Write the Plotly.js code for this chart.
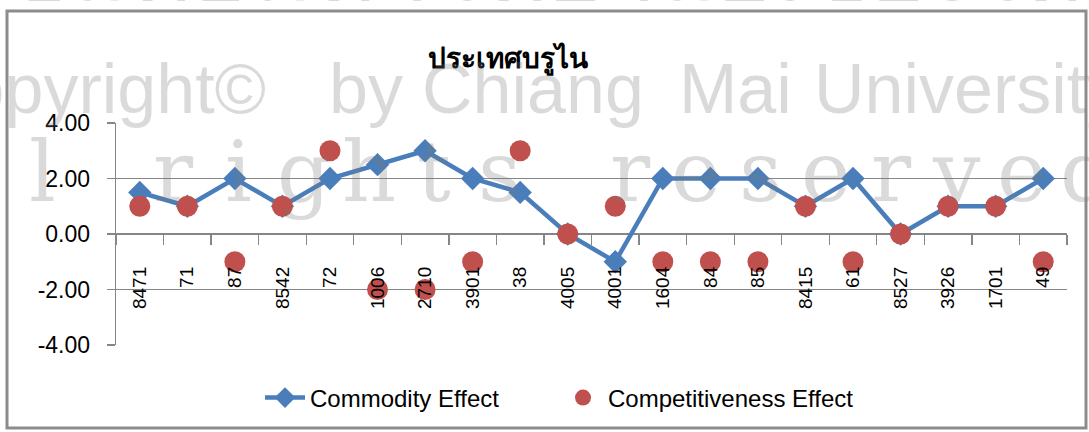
<!DOCTYPE html>
<html>
<head>
<meta charset="utf-8">
<script src="https://cdn.plot.ly/plotly-3.0.1.min.js"></script>
<style>
  html, body { margin: 0; padding: 0; background: #ffffff; }
  #chart { width: 1089px; height: 432px; }
</style>
</head>
<body>
<div id="chart"></div>
<script>
// ---- data ----
const chartTitle = 'ประเทศบรูไน';
const categories = ['8471', '71', '87', '8542', '72', '1006', '2710', '3901', '38', '4005',
                    '4001', '1604', '84', '85', '8415', '61', '8527', '3926', '1701', '49'];
const commodityEffect = [1.5, 1, 2, 1, 2, 2.5, 3, 2, 1.5, 0,
                         -1, 2, 2, 2, 1, 2, 0, 1, 1, 2];
const competitivenessEffect = [1, 1, -1, 1, 3, -2, -2, -1, 3, 0,
                               1, -1, -1, -1, 1, -1, 0, 1, 1, -1];
const seriesNames = ['Commodity Effect', 'Competitiveness Effect'];
const yTickVals = [-4, -2, 0, 2, 4];
const yTickText = ['-4.00', '-2.00', '0.00', '2.00', '4.00'];

// ---- watermark text seen over the reference ----
const watermarkThai = 'ลิขสิทธิ์มหาวิทยาลัยเชียงใหม่';
const watermarkCopyrightWords = ['Copyright©', 'by', 'Chiang', 'Mai', 'University'];
const watermarkRights = 'All rights reserved';

// ---- geometry (pixels) ----
const W = 1089, H = 432;
const L = 116, R = 22, T = 123, B = 87;
const plotW = W - L - R, plotH = H - T - B;
const px2x = px => (px - L) / plotW;
const px2y = py => (H - B - py) / plotH;

const gridColor = '#868686';
const wmColor = 'rgba(120,120,120,0.27)';

const annotations = [];
// Thai watermark line (mostly cut off at the top)
annotations.push({
  text: watermarkThai, xref: 'paper', yref: 'paper',
  x: px2x(545), y: px2y(30), xanchor: 'center', yanchor: 'bottom',
  showarrow: false, font: { family: 'Noto Sans, DejaVu Sans, sans-serif', size: 96, color: wmColor }
});
// Copyright line, word by word (wide word spacing in the reference)
const wordLeft = [null, 327, 420, 677, 812];
watermarkCopyrightWords.forEach((w, i) => {
  annotations.push({
    text: w, xref: 'paper', yref: 'paper',
    x: px2x(i === 0 ? 268 : wordLeft[i]), y: px2y(89),
    xanchor: i === 0 ? 'right' : 'left', yanchor: 'middle',
    showarrow: false, font: { family: 'Liberation Sans, Arial, sans-serif', size: 70, color: wmColor }
  });
});
// Spaced "All rights reserved"
watermarkRights.split('').forEach((ch, i) => {
  if (ch === ' ') return;
  annotations.push({
    text: ch, xref: 'paper', yref: 'paper',
    x: px2x(-88 + 65.3 * i), y: px2y(172), xanchor: 'center', yanchor: 'middle',
    showarrow: false, font: { family: 'DejaVu Serif, serif', size: 84, color: wmColor }
  });
});

const traces = [
  {
    type: 'scatter', mode: 'lines+markers', name: seriesNames[0],
    x: categories, y: commodityEffect,
    line: { color: '#4a7ebb', width: 4.5 },
    marker: { symbol: 'diamond', size: 18, color: '#4a7ebb' },
    cliponaxis: false
  },
  {
    type: 'scatter', mode: 'markers', name: seriesNames[1],
    x: categories, y: competitivenessEffect,
    marker: { symbol: 'circle', size: 21, color: '#c0504d' },
    cliponaxis: false
  }
];

const layout = {
  width: W, height: H,
  margin: { l: L, r: R, t: T, b: B, pad: 0 },
  paper_bgcolor: '#ffffff', plot_bgcolor: '#ffffff',
  font: { family: 'Liberation Sans, Arial, sans-serif', color: '#000000' },
  title: {
    text: chartTitle,
    font: { family: 'Noto Sans, DejaVu Sans, sans-serif', size: 28, weight: 'bold', color: '#000000' },
    xref: 'paper', x: px2x(508), xanchor: 'center',
    yref: 'container', y: 1 - 58 / H, yanchor: 'middle'
  },
  xaxis: {
    type: 'category', range: [-0.5, categories.length - 0.5],
    anchor: 'free', position: 0.5,
    showgrid: false, zeroline: false, showline: false,
    ticks: 'outside', tickson: 'boundaries', ticklen: 10, tickwidth: 1.3, tickcolor: gridColor,
    tickangle: -90, ticklabelstandoff: 28,
    tickfont: { family: 'Liberation Sans, Arial, sans-serif', size: 19, color: '#000000' },
    fixedrange: true
  },
  yaxis: {
    range: [-4, 4], tickmode: 'array', tickvals: yTickVals, ticktext: yTickText,
    showgrid: true, gridcolor: gridColor, gridwidth: 1.3,
    zeroline: false, showline: true, linecolor: gridColor, linewidth: 1.3,
    ticks: 'outside', ticklen: 8, tickwidth: 1.3, tickcolor: gridColor,
    ticklabelstandoff: 12,
    tickfont: { family: 'Liberation Sans, Arial, sans-serif', size: 23, color: '#000000' },
    fixedrange: true
  },
  showlegend: true,
  legend: {
    orientation: 'h', x: px2x(558), xanchor: 'center', y: px2y(398), yanchor: 'middle',
    font: { family: 'Liberation Sans, Arial, sans-serif', size: 24, color: '#000000' },
    bgcolor: 'rgba(0,0,0,0)', itemwidth: 40,
    entrywidth: 243, entrywidthmode: 'pixels'
  },
  shapes: [
    { type: 'rect', xref: 'paper', yref: 'paper', layer: 'below',
      x0: px2x(7), x1: px2x(1086), y0: px2y(428), y1: px2y(11),
      line: { color: '#8c8c8c', width: 3 }, fillcolor: 'rgba(0,0,0,0)' }
  ],
  annotations: annotations
};

Plotly.newPlot('chart', traces, layout, { displayModeBar: false, staticPlot: true });
</script>
</body>
</html>
